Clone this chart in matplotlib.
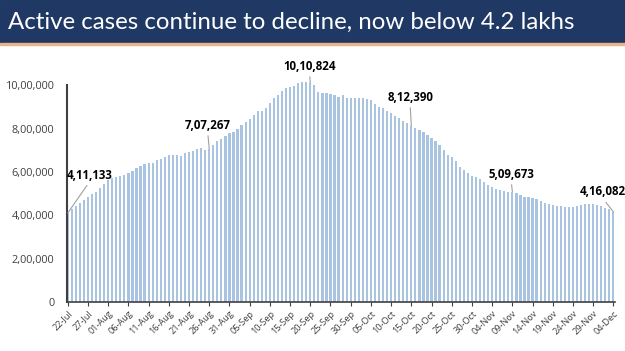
import matplotlib
matplotlib.use("Agg")
from matplotlib import pyplot as plt
from matplotlib.patches import Rectangle
import numpy as np
import pandas as pd

# daily active cases, 22-Jul to 04-Dec
dates = pd.date_range("2020-07-22", "2020-12-04", freq="D")
active = [
  411133, 428000, 442000, 456000, 470000, 485000, 497000, 510000, 528000, 545000,
  565000, 573000, 579000, 580000, 586000, 596000, 607000, 619000, 629000, 635000,
  640000, 644000, 654000, 662000, 668000, 677000, 677000, 677000, 673000, 686000,
  692000, 697000, 705000, 710000, 704000, 707267, 725000, 742000, 752000, 765000,
  782000, 786000, 801000, 815000, 830000, 846000, 862000, 883000, 884000, 897000,
  919000, 943000, 958000, 973000, 987000, 995000, 996000, 1009000, 1017000, 1018000,
  1010824, 1000000, 968000, 966000, 966000, 962000, 958000, 948000, 958000, 944000,
  940000, 940000, 944000, 940000, 937000, 934000, 916000, 902000, 894000, 883000,
  871000, 861000, 850000, 838000, 826000, 812390, 804000, 795000, 783000, 772000,
  758000, 742000, 723000, 703000, 680000, 668000, 653000, 625000, 610000, 595000,
  584000, 576000, 566000, 553000, 542000, 530000, 522000, 517000, 512000, 510000,
  509673, 503000, 495000, 487000, 484000, 479000, 474000, 466000, 458000, 452000,
  448000, 444000, 443000, 440000, 439000, 439000, 442000, 450000, 454000, 454000,
  453000, 450000, 445000, 436000, 429000, 416082,
]
callouts = ["22-Jul", "26-Aug", "20-Sep", "15-Oct", "09-Nov", "04-Dec"]
callout_text = [(5.4, 586000), (34.6, 817000), (59.8, 1089000),
                (84.7, 946000), (109.7, 591000), (132.4, 508000)]
yticks = [0, 200000, 400000, 600000, 800000, 1000000]
ytick_labels = ["0", "2,00,000", "4,00,000", "6,00,000", "8,00,000", "10,00,000"]


def indian(n):
  # lakh style grouping: 10,10,824
  s = str(n)
  head, tail = s[:-3], s[-3:]
  parts = []
  while len(head) > 2:
    parts.insert(0, head[-2:])
    head = head[:-2]
  if head:
    parts.insert(0, head)
  return ",".join(parts + [tail])


labels = [d.strftime("%d-%b") for d in dates]
x = np.arange(len(active))

fig = plt.figure(figsize=(6.25, 3.51), dpi=100)
fig.patches.append(Rectangle((0, 1 - 43/351), 1, 43/351, transform=fig.transFigure,
                             color="#1f3864", zorder=0))
fig.patches.append(Rectangle((0, 1 - 44.5/351), 1, 1.5/351, transform=fig.transFigure,
                             color="#e8b48a", zorder=0))
fig.text(0.013, 1 - 22/351, "Active cases continue to decline, now below 4.2 lakhs",
         color="white", fontsize=17.3, family="Lato", va="center", ha="left")

ax = fig.add_axes([67/625, 1 - 302/351, 548/625, 230/351])
ax.bar(x, active, width=0.55, color="#a9c4e0", zorder=1)
ax.set_xlim(-0.2, len(active) - 0.6)
ax.set_ylim(0, 1062000)

ax.set_yticks(yticks)
ax.set_yticklabels(ytick_labels, fontsize=7.8, color="#404040", family="Open Sans")
ax.tick_params(axis="y", length=0, pad=9)
ax.set_xticks(x[::5])
ax.set_xticklabels(labels[::5], rotation=45, ha="right", rotation_mode="anchor",
                   fontsize=6.6, color="#404040", family="Open Sans")
ax.tick_params(axis="x", length=3, width=0.8, color="#404040", pad=2)

for s in ["top", "right"]:
  ax.spines[s].set_visible(False)
ax.spines["left"].set_bounds(0, 1000000)
ax.spines["left"].set_linewidth(1.5)
ax.spines["left"].set_color("#404040")
ax.spines["bottom"].set_linewidth(1.2)
ax.spines["bottom"].set_color("#404040")

for lab, (tx, ty) in zip(callouts, callout_text):
  i = labels.index(lab)
  ax.annotate(indian(active[i]), xy=(i, active[i]), xytext=(tx, ty), textcoords="data",
              ha="center", va="center", fontsize=8.3, fontweight="bold",
              family="Open Sans", color="black", annotation_clip=False,
              arrowprops=dict(arrowstyle="-", color="#a0a0a0", lw=0.8,
                              shrinkA=1, shrinkB=0, relpos=(0.5, 0)))

fig.savefig("out.png", dpi=100)
